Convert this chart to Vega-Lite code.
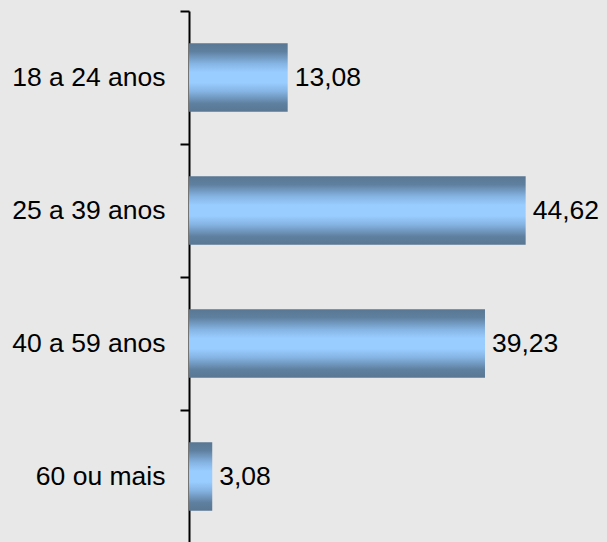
{
  "$schema": "https://vega.github.io/schema/vega-lite/v6.json",
  "width": 418,
  "height": 532,
  "autosize": {"type": "none"},
  "padding": {"left": 189, "top": 11, "right": 0, "bottom": 0},
  "background": "#e8e8e8",
  "config": {"view": {"stroke": null}},
  "data": {
    "values": [
      {"faixa": "18 a 24 anos", "valor": 13.08, "rotulo": "13,08"},
      {"faixa": "25 a 39 anos", "valor": 44.62, "rotulo": "44,62"},
      {"faixa": "40 a 59 anos", "valor": 39.23, "rotulo": "39,23"},
      {"faixa": "60 ou mais", "valor": 3.08, "rotulo": "3,08"}
    ]
  },
  "encoding": {
    "y": {
      "field": "faixa",
      "type": "nominal",
      "sort": null,
      "scale": {"paddingInner": 0, "paddingOuter": 0},
      "axis": {
        "title": null,
        "domainColor": "#000000",
        "domainWidth": 2,
        "tickColor": "#000000",
        "tickWidth": 2,
        "tickSize": 9,
        "tickBand": "extent",
        "labelFont": "Liberation Sans",
        "labelFontSize": 26.5,
        "labelColor": "#000000",
        "labelPadding": 15,
        "labelLimit": 300
      }
    },
    "x": {
      "field": "valor",
      "type": "quantitative",
      "scale": {"domain": [0, 55.4], "nice": false},
      "axis": null
    }
  },
  "layer": [
    {
      "mark": {
        "type": "bar",
        "height": {"band": 0.514},
        "fill": {
          "gradient": "linear",
          "x1": 0, "y1": 0, "x2": 0, "y2": 1,
          "stops": [
            {"offset": 0, "color": "#587794"},
            {"offset": 0.12, "color": "#5f809f"},
            {"offset": 0.3, "color": "#86b5e4"},
            {"offset": 0.42, "color": "#99ccff"},
            {"offset": 0.58, "color": "#99ccff"},
            {"offset": 0.7, "color": "#86b5e4"},
            {"offset": 0.88, "color": "#5f809f"},
            {"offset": 1, "color": "#587794"}
          ]
        }
      }
    },
    {
      "mark": {
        "type": "text",
        "align": "left",
        "baseline": "middle",
        "dx": 7,
        "font": "Liberation Sans",
        "fontSize": 26.5,
        "color": "#000000"
      },
      "encoding": {"text": {"field": "rotulo"}}
    }
  ]
}
